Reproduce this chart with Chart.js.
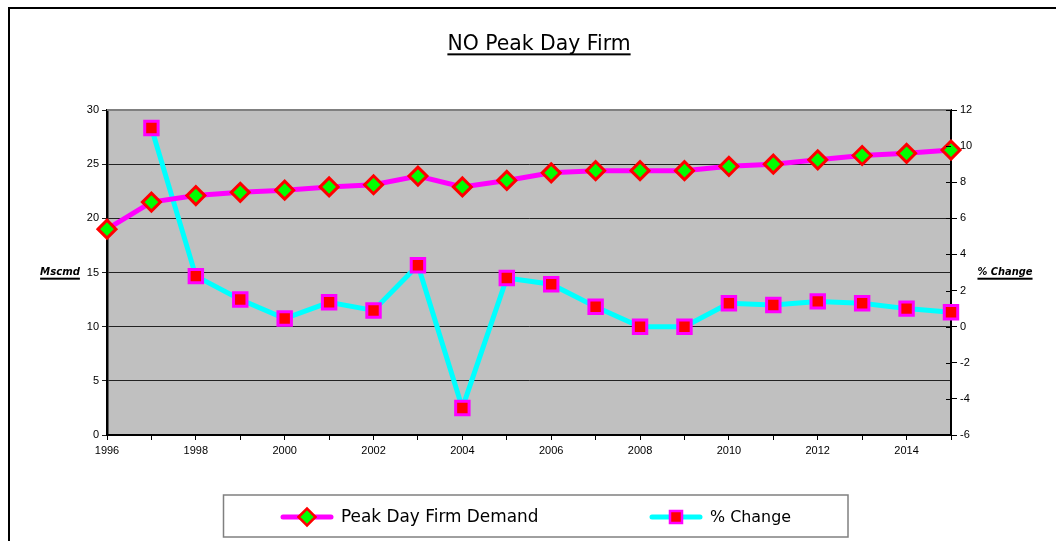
<!DOCTYPE html>
<html>
<head>
<meta charset="utf-8">
<script src="https://cdn.jsdelivr.net/npm/chart.js@4"></script>
<style>
  html, body { margin: 0; padding: 0; background: #fff; }
  #wrap { width: 1056px; height: 541px; position: relative; }
</style>
</head>
<body>
<div id="wrap"><canvas id="peakChart"></canvas></div>
<script>
// --- data ---
const years = ['1996','1997','1998','1999','2000','2001','2002','2003','2004','2005',
               '2006','2007','2008','2009','2010','2011','2012','2013','2014','2015'];
const peakDemand = [19.0, 21.5, 22.1, 22.4, 22.6, 22.9, 23.1, 23.9, 22.9, 23.5,
                    24.2, 24.4, 24.4, 24.4, 24.8, 25.0, 25.4, 25.8, 26.0, 26.3];
const pctChange = [null, 11.0, 2.8, 1.5, 0.45, 1.35, 0.9, 3.4, -4.5, 2.7,
                   2.35, 1.1, 0.0, 0.0, 1.3, 1.2, 1.4, 1.3, 1.0, 0.8];
const leftTicks = [0, 5, 10, 15, 20, 25, 30];
const rightTicks = [-6, -4, -2, 0, 2, 4, 6, 8, 10, 12];

const sansFont = '"DejaVu Sans", "Noto Sans", sans-serif';
const arial = '"Liberation Sans", Arial, sans-serif';

// pick a font size so the text spans roughly the width seen in the original
function fitFont(ctx, text, width, style) {
  ctx.font = style + ' 20px ' + sansFont;
  const size = 20 * width / ctx.measureText(text).width;
  return style + ' ' + size.toFixed(1) + 'px ' + sansFont;
}

function underlinedText(ctx, text, x, y, font, align) {
  ctx.save();
  ctx.font = font;
  ctx.fillStyle = '#000';
  ctx.textAlign = align;
  ctx.textBaseline = 'middle';
  ctx.fillText(text, x, y);
  const w = ctx.measureText(text).width;
  const x0 = align === 'center' ? x - w / 2 : (align === 'right' ? x - w : x);
  const m = ctx.measureText('M');
  ctx.fillRect(x0, y + (m.actualBoundingBoxAscent || 8) / 2 + 3, w, 2);
  ctx.restore();
}

// frame, plot background, titles and legend
const decor = {
  id: 'decor',
  beforeDraw(chart) {
    const { ctx, chartArea: a } = chart;
    ctx.save();
    ctx.fillStyle = '#C0C0C0';
    ctx.fillRect(a.left, a.top, a.right - a.left, a.bottom - a.top);
    ctx.strokeStyle = '#000';
    ctx.lineWidth = 2;
    ctx.beginPath();
    ctx.moveTo(9, 541);
    ctx.lineTo(9, 8);
    ctx.lineTo(1056, 8);
    ctx.stroke();
    ctx.restore();
  },
  afterDraw(chart) {
    const { ctx, chartArea: a } = chart;
    ctx.save();
    ctx.strokeStyle = '#808080';
    ctx.lineWidth = 2;
    ctx.beginPath();
    ctx.moveTo(a.left, a.top);
    ctx.lineTo(a.right, a.top);
    ctx.stroke();
    // right axis tick marks cross the axis line
    const r = chart.scales.y1;
    ctx.strokeStyle = '#000';
    ctx.lineWidth = 1;
    rightTicks.forEach(v => {
      const py = Math.round(r.getPixelForValue(v)) + 0.5;
      ctx.beginPath();
      ctx.moveTo(a.right - 5, py);
      ctx.lineTo(a.right, py);
      ctx.stroke();
    });
    ctx.restore();

    underlinedText(ctx, 'NO Peak Day Firm', 539, 45, fitFont(ctx, 'NO Peak Day Firm', 183, 'normal'), 'center');
    underlinedText(ctx, 'Mscmd', 60, 272, fitFont(ctx, 'Mscmd', 40, 'italic bold'), 'center');
    underlinedText(ctx, '% Change', 1005, 272, fitFont(ctx, '% Change', 55, 'italic bold'), 'center');

    // legend box
    ctx.save();
    ctx.strokeStyle = '#808080';
    ctx.lineWidth = 1.5;
    ctx.strokeRect(223.5, 495, 624.5, 42);
    const items = [
      { ds: chart.data.datasets[0], x: 283, text: 'Peak Day Firm Demand', w: 198 },
      { ds: chart.data.datasets[1], x: 652, text: '% Change', w: 81 }
    ];
    const ly = 517;
    items.forEach(it => {
      ctx.strokeStyle = it.ds.borderColor;
      ctx.lineWidth = 5;
      ctx.lineCap = 'round';
      ctx.beginPath();
      ctx.moveTo(it.x, ly);
      ctx.lineTo(it.x + 48, ly);
      ctx.stroke();
      ctx.fillStyle = it.ds.pointBackgroundColor;
      ctx.strokeStyle = it.ds.pointBorderColor;
      ctx.lineWidth = 2.5;
      Chart.helpers.drawPoint(ctx, { pointStyle: it.ds.pointStyle, radius: 8.5, borderWidth: 2.5 }, it.x + 24, ly);
      ctx.fillStyle = '#000';
      ctx.font = fitFont(ctx, it.text, it.w, 'normal');
      ctx.textBaseline = 'middle';
      ctx.fillText(it.text, it.x + 58, ly + 1);
    });
    ctx.restore();
  }
};

new Chart(document.getElementById('peakChart'), {
  type: 'line',
  data: {
    labels: years,
    datasets: [
      {
        label: 'Peak Day Firm Demand',
        data: peakDemand,
        yAxisID: 'y',
        borderColor: '#FF00FF',
        borderWidth: 5,
        pointStyle: 'rectRot',
        pointRadius: 9,
        pointHoverRadius: 9,
        pointBackgroundColor: '#00FF00',
        pointBorderColor: '#FF0000',
        pointBorderWidth: 3,
        tension: 0
      },
      {
        label: '% Change',
        data: pctChange,
        yAxisID: 'y1',
        borderColor: '#00FFFF',
        borderWidth: 5,
        pointStyle: 'rect',
        pointRadius: 9.5,
        pointHoverRadius: 9.5,
        pointBackgroundColor: '#FF0000',
        pointBorderColor: '#FF00FF',
        pointBorderWidth: 3,
        tension: 0
      }
    ]
  },
  options: {
    responsive: true,
    maintainAspectRatio: false,
    animation: false,
    layout: { padding: { top: 110, left: 0, right: 0, bottom: 0 } },
    plugins: {
      legend: { display: false },
      title: { display: false },
      tooltip: { enabled: false }
    },
    scales: {
      x: {
        type: 'category',
        offset: false,
        grid: { drawOnChartArea: false, color: '#000', tickLength: 5 },
        border: { color: '#000', width: 2 },
        ticks: {
          autoSkip: false,
          maxRotation: 0,
          color: '#000',
          font: { family: arial, size: 11 },
          padding: 4,
          callback: (v, i) => (i % 2 === 0 ? years[i] : '')
        },
        afterFit: s => { s.height = 106; }
      },
      y: {
        position: 'left',
        min: 0,
        max: 30,
        afterBuildTicks: s => { s.ticks = leftTicks.map(v => ({ value: v })); },
        grid: { color: '#222', lineWidth: 1, tickLength: 5 },
        border: { color: '#000', width: 2.5 },
        ticks: { color: '#000', font: { family: arial, size: 11 }, padding: 3 },
        afterFit: s => { s.width = 107; }
      },
      y1: {
        position: 'right',
        min: -6,
        max: 12,
        afterBuildTicks: s => { s.ticks = rightTicks.map(v => ({ value: v })); },
        grid: { drawOnChartArea: false, color: '#000', tickLength: 6 },
        border: { color: '#000', width: 2 },
        ticks: { color: '#000', font: { family: arial, size: 11 }, padding: 3 },
        afterFit: s => { s.width = 105; }
      }
    }
  },
  plugins: [decor]
});
</script>
</body>
</html>
